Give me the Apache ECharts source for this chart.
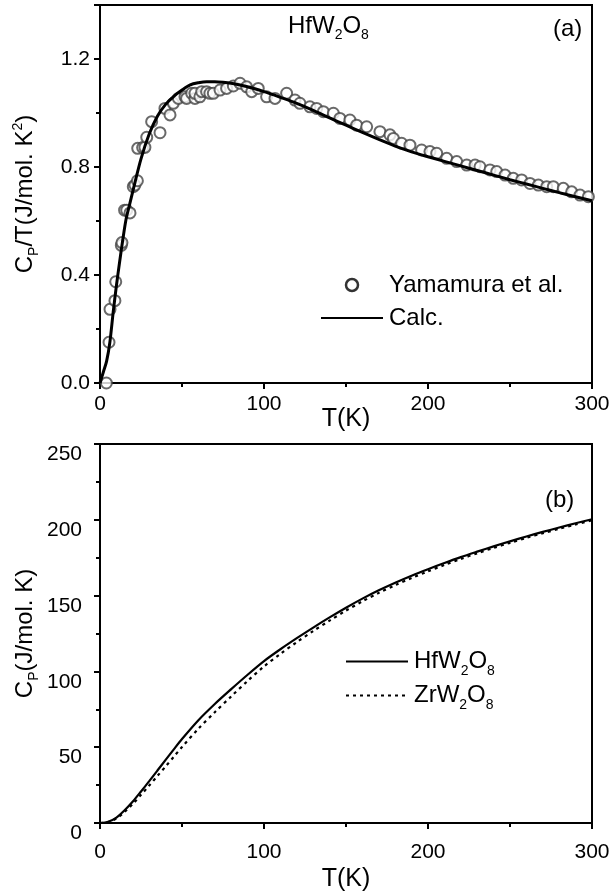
<!DOCTYPE html>
<html>
<head>
<meta charset="utf-8">
<script src="https://cdn.jsdelivr.net/npm/echarts@6/dist/echarts.min.js"></script>
<style>html,body{margin:0;padding:0;background:#fff;}#c{width:613px;height:894px;}</style>
</head>
<body>
<div id="c"></div>
<script>
// ---- Panel (a): Cp/T of HfW2O8 ----
const calcT = [0,2,4,6,8,10,12,14,16,18,20,25,30,35,40,45,50,55,60,65,70,75,80,90,100,110,120,130,140,150,160,170,180,190,200,210,220,230,240,250,260,270,280,290,300];
const calcCpT = [0,0.04,0.08,0.15,0.26,0.36,0.45,0.535,0.61,0.66,0.71,0.83,0.922,0.988,1.032,1.062,1.085,1.104,1.112,1.116,1.116,1.114,1.11,1.097,1.079,1.058,1.036,1.01,0.982,0.955,0.928,0.902,0.877,0.856,0.838,0.821,0.804,0.787,0.77,0.753,0.737,0.721,0.705,0.69,0.675];
const expT = [3.9,5.5,6.1,9.1,9.6,13.0,13.4,15.0,16.3,18.3,20.3,21.3,22.8,23.0,26.0,27.4,28.5,31.5,36.6,39.6,42.7,44.7,47.8,51.8,52.8,55.9,57.9,57.9,60.9,62,65,67,69.1,73.2,77.2,81.3,85.4,89.4,92.5,96.5,101.6,106.7,113.8,118.9,121.9,128,132.1,136.2,142.3,146.3,152.4,156.5,162.6,170.7,176.8,178.9,183.9,189,196.1,201.2,205.3,211.4,217.5,223.6,228.7,231.7,237.8,241.9,247,252,257.1,262.2,267.3,272.4,276.4,282.5,287.6,292.7,297.8];
const expCpT = [0.0,0.151,0.273,0.305,0.375,0.51,0.52,0.64,0.64,0.63,0.727,0.733,0.749,0.869,0.872,0.873,0.91,0.968,0.927,1.017,0.993,1.036,1.054,1.06,1.054,1.073,1.054,1.073,1.06,1.079,1.079,1.073,1.073,1.085,1.091,1.1,1.11,1.097,1.079,1.091,1.06,1.054,1.073,1.048,1.036,1.023,1.017,1.005,0.999,0.98,0.974,0.955,0.949,0.931,0.919,0.906,0.888,0.881,0.863,0.857,0.851,0.832,0.82,0.807,0.807,0.801,0.789,0.783,0.77,0.758,0.752,0.739,0.733,0.727,0.727,0.721,0.708,0.696,0.69];
// ---- Panel (b): Cp ----
const cpT = [0,5,10,15,20,25,30,35,40,45,50,60,70,80,90,100,110,120,130,140,150,160,170,180,190,200,210,220,230,240,250,260,270,280,290,300];
const cpHf = [0,0.8,3.6,8.4,14.2,20.8,27.6,34.6,41.6,48.6,55.4,67.8,78.5,88.3,97.8,106.8,114.6,121.9,128.9,135.6,142,148,153.5,158.5,163.1,167.4,171.5,175.4,179,182.5,185.8,189,192,194.9,197.7,200.4];
const cpZr = [0,0.6,3.0,7.3,12.6,18.6,24.7,31.0,37.3,43.7,50.1,62.2,73.1,83.5,93.7,103.3,111.6,119.3,126.6,133.5,140.1,146.2,151.8,156.9,161.6,166.0,170.2,174.2,177.9,181.5,184.8,188.1,191.1,194.1,196.9,199.7];

const FF = '"Liberation Sans", Arial, Helvetica, sans-serif';
const zip = (a,b)=>a.map((v,i)=>[v,b[i]]);
const richSub = {
  n:{fontSize:24,fontFamily:FF,color:'#000',fontWeight:'normal',lineHeight:26},
  s:{fontSize:14,fontFamily:FF,color:'#000',fontWeight:'normal',padding:[19,0,0,0],lineHeight:14},
  p:{fontSize:14,fontFamily:FF,color:'#000',fontWeight:'normal',padding:[0,0,14,0],lineHeight:14}
};
const fmtName = {
  'HfW2O8':'{n|HfW}{s|2}{n|O}{s|8}',
  'ZrW2O8':'{n|ZrW}{s|2}{n|O}{s|8}',
  'Yamamura et al.':'{n|Yamamura et al.}',
  'Calc.':'{n|Calc.}'
};
const hideSym = {color:'transparent',borderColor:'transparent',borderWidth:0,opacity:0};
const axLine = {show:true,lineStyle:{color:'#000',width:2}};
function xAxisCfg(gridIndex, margin, nameGap){
  return {type:'value',gridIndex,min:0,max:300,interval:100,
    axisLine:axLine,
    axisTick:{show:true,inside:false,length:6,lineStyle:{color:'#000',width:2}},
    minorTick:{show:true,splitNumber:2,length:4,lineStyle:{color:'#000',width:2}},
    splitLine:{show:false},
    axisLabel:{color:'#000',fontSize:21,fontFamily:FF,margin:margin},
    name:'T(K)',nameLocation:'middle',nameGap:nameGap,nameMoveOverlap:false,
    nameTextStyle:{color:'#000',fontSize:25,fontFamily:FF}};
}
const chart = echarts.init(document.getElementById('c'),null,{renderer:'canvas'});
chart.setOption({
  animation:false,
  backgroundColor:'#fff',
  title:[
    {text:'{n|HfW}{s|2}{n|O}{s|8}',left:283,top:8,textStyle:{fontWeight:'normal',rich:richSub}},
    {text:'(a)',left:548,top:12,textStyle:{fontSize:24,fontFamily:FF,color:'#000',fontWeight:'normal'}},
    {text:'(b)',left:540,top:483,textStyle:{fontSize:24,fontFamily:FF,color:'#000',fontWeight:'normal'}}
  ],
  grid:[
    {left:100,top:5,right:21,height:378,show:true,borderColor:'#000',borderWidth:2},
    {left:100,top:444,right:21,bottom:71,show:true,borderColor:'#000',borderWidth:2}
  ],
  legend:[
    {orient:'vertical',left:315,top:268,itemWidth:62,itemHeight:12,itemGap:9,
     itemStyle:{color:'#fff',borderColor:'#000',borderWidth:2.5},
     data:[{name:'Yamamura et al.',icon:'circle',itemStyle:{color:'#fff',borderColor:'#000',borderWidth:2.5}},
           {name:'Calc.',itemStyle:hideSym}],
     formatter:n=>fmtName[n],textStyle:{rich:richSub,padding:[0,0,0,1]}},
    {orient:'vertical',left:340,top:640,itemWidth:62,itemHeight:12,itemGap:1,
     data:[{name:'HfW2O8',itemStyle:hideSym},{name:'ZrW2O8',itemStyle:hideSym}],
     formatter:n=>fmtName[n],textStyle:{rich:richSub,padding:[0,0,0,1]}}
  ],
  xAxis:[xAxisCfg(0,11,24),xAxisCfg(1,19,44)],
  yAxis:[
    {type:'value',gridIndex:0,min:0,max:1.4,interval:0.4,
     axisLine:axLine,
     axisTick:{show:true,length:6,lineStyle:{color:'#000',width:2}},
     splitLine:{show:false},
     axisLabel:{color:'#000',fontSize:21,fontFamily:FF,margin:10,
       formatter:v=>v>1.3?'':v.toFixed(1)},
     name:'{n|C}{s|P}{n|/T(J/mol. K}{p|2}{n|)}',nameLocation:'middle',nameRotate:90,nameGap:62,nameMoveOverlap:false,
     nameTextStyle:{rich:richSub}},
    {type:'value',gridIndex:0,min:0,max:1.4,interval:0.2,position:'left',
     axisLine:{show:false},
     axisTick:{show:true,length:4,lineStyle:{color:'#000',width:2}},
     axisLabel:{show:false},splitLine:{show:false}},
    {type:'value',gridIndex:1,min:0,max:250,interval:50,
     axisLine:axLine,
     axisTick:{show:true,length:6,lineStyle:{color:'#000',width:2}},
     minorTick:{show:true,splitNumber:2,length:4,lineStyle:{color:'#000',width:2}},
     splitLine:{show:false},
     axisLabel:{color:'#000',fontSize:21,fontFamily:FF,margin:18,verticalAlign:'top',lineHeight:21},
     name:'{n|C}{s|P}{n|(J/mol. K)}',nameLocation:'middle',nameRotate:90,nameGap:62,nameMoveOverlap:false,
     nameTextStyle:{rich:richSub}}
  ],
  series:[
    {name:'Yamamura et al.',type:'scatter',xAxisIndex:0,yAxisIndex:0,
     data:zip(expT,expCpT),symbol:'emptyCircle',symbolSize:11,
     itemStyle:{color:'#444',borderColor:'#444',borderWidth:0.7}},
    {name:'Calc.',type:'line',xAxisIndex:0,yAxisIndex:0,data:zip(calcT,calcCpT),
     showSymbol:false,symbol:'none',smooth:0.3,lineStyle:{color:'#000',width:3},itemStyle:{color:'#000'}},
    {name:'HfW2O8',type:'line',xAxisIndex:1,yAxisIndex:2,data:zip(cpT,cpHf),
     showSymbol:false,symbol:'none',smooth:0.3,lineStyle:{color:'#000',width:2.2},itemStyle:{color:'#000'}},
    {name:'ZrW2O8',type:'line',xAxisIndex:1,yAxisIndex:2,data:zip(cpT,cpZr),
     showSymbol:false,symbol:'none',smooth:0.3,lineStyle:{color:'#000',width:2.2,type:[3,4]},itemStyle:{color:'#000'}}
  ]
});
</script>
</body>
</html>
